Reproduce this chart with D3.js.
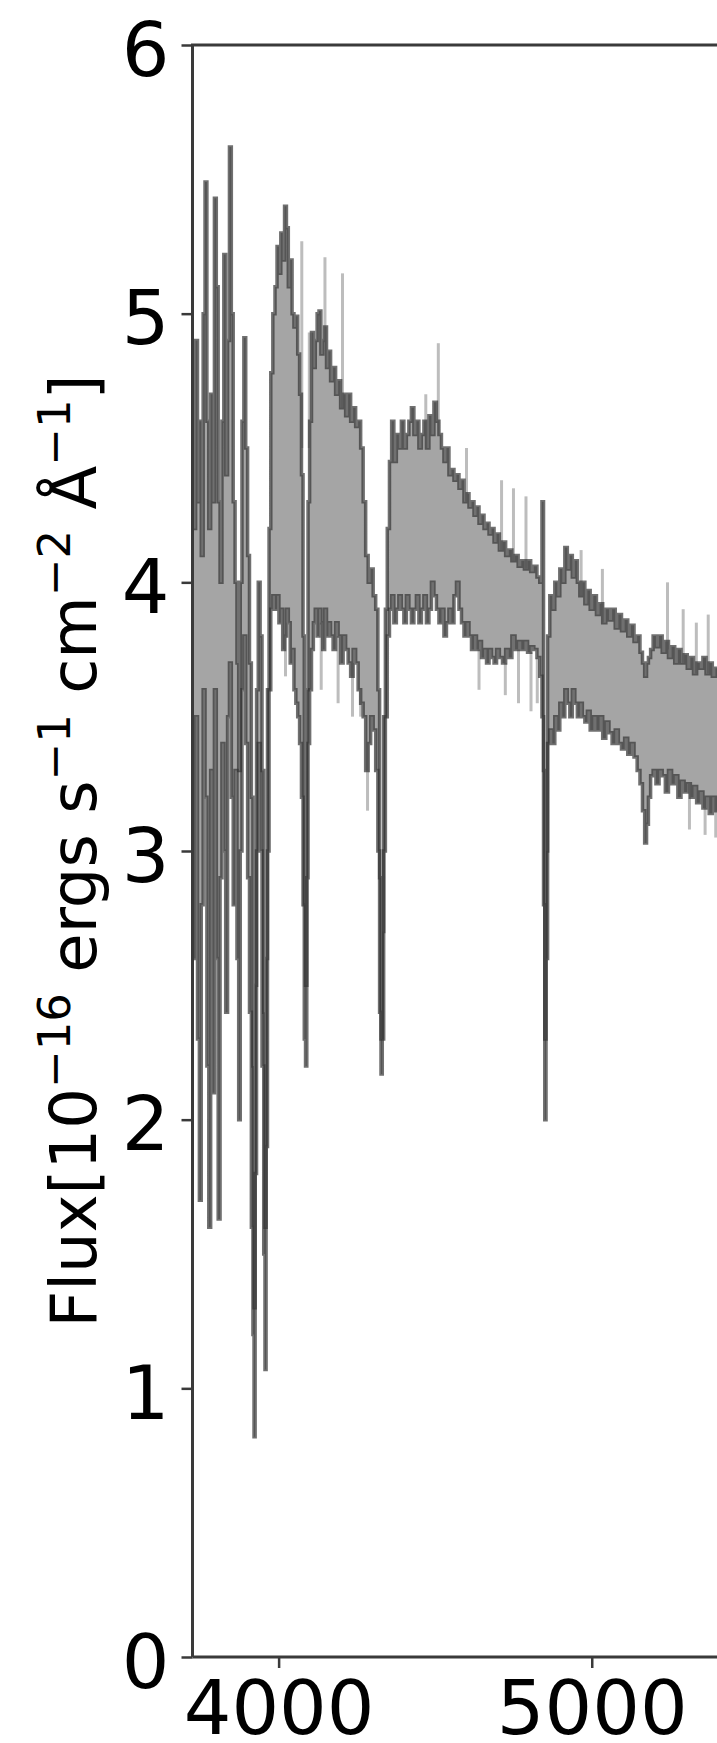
<!DOCTYPE html>
<html>
<head>
<meta charset="utf-8">
<script src="https://cdn.jsdelivr.net/npm/d3@7"></script>
<style>
  body { margin: 0; background: #fff; }
  svg { display: block; font-family: 'DejaVu Sans', sans-serif; }
</style>
</head>
<body>
<div class="svg-container"></div>
<script>
// wavelength in angstrom, flux in 1e-16 erg/s/cm2/A
const wavelength = [
  3726, 3732, 3738, 3744, 3750, 3756, 3762, 3768, 3774, 3780,
  3786, 3792, 3798, 3804, 3810, 3816, 3822, 3828, 3834, 3840,
  3846, 3852, 3858, 3864, 3870, 3875, 3880, 3886, 3892, 3898,
  3904, 3910, 3916, 3920, 3923, 3927, 3932, 3938, 3944, 3950,
  3955, 3958, 3962, 3967, 3972, 3978, 3985, 3992, 3998, 4004,
  4010, 4016, 4022, 4028, 4034, 4040, 4046, 4052, 4058, 4064,
  4070, 4076, 4080, 4084, 4088, 4092, 4096, 4102, 4108, 4114,
  4120, 4126, 4132, 4138, 4144, 4150, 4156, 4162, 4170, 4178,
  4186, 4194, 4202, 4210, 4218, 4226, 4234, 4242, 4250, 4258,
  4266, 4274, 4282, 4290, 4298, 4306, 4314, 4320, 4325, 4329,
  4333, 4338, 4344, 4350, 4358, 4364, 4372, 4380, 4388, 4396,
  4404, 4412, 4420, 4428, 4436, 4444, 4452, 4460, 4468, 4476,
  4484, 4492, 4500, 4508, 4516, 4524, 4532, 4540, 4548, 4556,
  4564, 4572, 4580, 4588, 4596, 4604, 4612, 4620, 4628, 4636,
  4644, 4652, 4660, 4668, 4676, 4684, 4692, 4700, 4710, 4720,
  4730, 4740, 4750, 4760, 4770, 4780, 4790, 4800, 4810, 4820,
  4830, 4838, 4844, 4848, 4852, 4856, 4862, 4870, 4878, 4886,
  4894, 4902, 4910, 4918, 4926, 4934, 4942, 4950, 4958, 4966,
  4974, 4982, 4990, 5000, 5010, 5020, 5030, 5040, 5050, 5060,
  5070, 5080, 5090, 5100, 5110, 5120, 5130, 5140, 5150, 5158,
  5166, 5172, 5178, 5184, 5192, 5200, 5210, 5220, 5230, 5240,
  5250, 5260, 5270, 5280, 5290, 5300, 5310, 5320, 5330, 5340,
  5350, 5360, 5370, 5380, 5390, 5400, 5410
]

const fluxUpper = [
  4.90, 4.20, 4.90, 4.30, 4.60, 4.10, 5.00, 5.49, 4.60, 4.20,
  4.70, 4.30, 5.43, 5.10, 4.30, 4.00, 4.60, 5.22, 4.40, 4.90,
  5.62, 5.00, 4.30, 4.00, 3.70, 3.30, 4.00, 4.60, 4.91, 4.50,
  4.10, 3.70, 3.20, 2.20, 1.30, 2.50, 3.60, 4.00, 3.80, 3.30,
  2.40, 1.60, 2.60, 3.60, 4.20, 4.78, 5.00, 5.10, 5.25, 5.15,
  5.30, 5.20, 5.40, 5.32, 5.10, 5.20, 5.00, 4.95, 4.99, 4.85,
  4.70, 4.40, 3.80, 2.80, 2.50, 3.60, 4.30, 4.60, 4.93, 4.80,
  4.90, 5.00, 5.01, 4.85, 4.90, 4.95, 4.80, 4.86, 4.75, 4.80,
  4.70, 4.75, 4.65, 4.70, 4.62, 4.70, 4.60, 4.65, 4.58, 4.60,
  4.50, 4.30, 4.10, 4.00, 4.05, 3.95, 3.90, 3.60, 2.90, 2.30,
  2.70, 3.50, 3.90, 4.20, 4.45, 4.60, 4.45, 4.55, 4.50, 4.60,
  4.50, 4.55, 4.60, 4.65, 4.55, 4.60, 4.50, 4.55, 4.60, 4.50,
  4.62, 4.55, 4.67, 4.60, 4.55, 4.50, 4.45, 4.50, 4.40, 4.42,
  4.38, 4.40, 4.35, 4.38, 4.30, 4.33, 4.28, 4.30, 4.25, 4.28,
  4.22, 4.25, 4.20, 4.22, 4.18, 4.20, 4.15, 4.18, 4.12, 4.15,
  4.10, 4.12, 4.08, 4.10, 4.06, 4.08, 4.05, 4.08, 4.04, 4.06,
  4.02, 4.00, 4.30, 3.30, 2.30, 3.00, 3.80, 3.95, 3.90, 4.00,
  3.95, 4.05, 4.00, 4.13, 4.05, 4.10, 4.02, 4.08, 4.00, 3.95,
  4.00, 3.92, 3.97, 3.90, 3.95, 3.88, 3.92, 3.85, 3.90, 3.86,
  3.90, 3.83, 3.88, 3.82, 3.86, 3.80, 3.84, 3.78, 3.80, 3.74,
  3.70, 3.65, 3.70, 3.72, 3.75, 3.80, 3.76, 3.80, 3.74, 3.78,
  3.72, 3.76, 3.70, 3.75, 3.70, 3.73, 3.68, 3.72, 3.66, 3.70,
  3.68, 3.72, 3.66, 3.70, 3.65, 3.68, 3.66
]

const fluxLower = [
  3.40, 2.60, 3.50, 2.30, 1.70, 2.80, 3.60, 3.20, 2.20, 1.60,
  3.30, 2.10, 3.60, 2.60, 1.63, 2.90, 3.40, 3.00, 2.40, 3.50,
  3.70, 3.20, 2.80, 3.30, 2.60, 2.00, 3.00, 3.60, 3.80, 3.40,
  2.90, 2.40, 1.60, 1.20, 0.82, 1.80, 3.00, 3.40, 3.00, 2.20,
  1.50, 1.07, 1.90, 3.00, 3.60, 3.90, 3.95, 3.90, 3.95, 3.85,
  3.90, 3.75, 3.80, 3.90, 3.85, 3.70, 3.75, 3.60, 3.55, 3.50,
  3.40, 3.20, 2.80, 2.30, 2.20, 2.90, 3.40, 3.60, 3.75, 3.85,
  3.90, 3.80, 3.90, 3.85, 3.75, 3.90, 3.80, 3.85, 3.80, 3.75,
  3.85, 3.80, 3.70, 3.80, 3.75, 3.70, 3.65, 3.75, 3.70, 3.60,
  3.55, 3.50, 3.30, 3.40, 3.50, 3.45, 3.30, 3.00, 2.40, 2.17,
  2.30, 3.00, 3.50, 3.80, 3.90, 3.95, 3.85, 3.90, 3.95, 3.90,
  3.85, 3.95, 3.90, 3.85, 3.90, 3.95, 3.85, 3.90, 3.95, 3.85,
  3.90, 4.00, 3.95, 3.90, 3.85, 3.90, 3.80, 3.85, 3.90, 3.85,
  3.95, 4.00, 3.90, 3.85, 3.80, 3.85, 3.80, 3.75, 3.80, 3.75,
  3.78, 3.72, 3.75, 3.70, 3.75, 3.72, 3.70, 3.75, 3.72, 3.70,
  3.75, 3.72, 3.80, 3.75, 3.78, 3.75, 3.78, 3.74, 3.76, 3.75,
  3.72, 3.65, 3.50, 2.80, 2.00, 2.60, 3.40, 3.45, 3.40, 3.50,
  3.45, 3.55, 3.50, 3.60, 3.55, 3.50, 3.60, 3.55, 3.50, 3.55,
  3.50, 3.48, 3.52, 3.45, 3.50, 3.45, 3.50, 3.42, 3.48, 3.44,
  3.40, 3.45, 3.40, 3.38, 3.42, 3.36, 3.40, 3.35, 3.30, 3.25,
  3.15, 3.03, 3.10, 3.20, 3.28, 3.30, 3.25, 3.30, 3.28, 3.22,
  3.30, 3.25, 3.28, 3.20, 3.26, 3.22, 3.25, 3.20, 3.24, 3.18,
  3.22, 3.16, 3.20, 3.14, 3.20, 3.15, 3.20
]

// pale single-pixel excursions outside the band
const spikeWave = [4074, 4098, 4148, 4204, 4470, 4510, 4600, 4712, 4750, 4790,
  4022, 4136, 4190, 4236, 4262, 4284, 4640, 4724, 4766, 4806,
  4826, 4966, 5034, 5242, 5292, 5334, 5372, 5312, 5362, 5396]
const spikeTop = [5.27, 4.93, 5.21, 5.15, 4.70, 4.89, 4.50, 4.38, 4.35, 4.32,
  3.85, 3.85, 3.80, 3.70, 3.60, 3.60, 3.75, 3.70, 3.75, 3.74,
  3.72, 4.12, 4.05, 4.00, 3.90, 3.85, 3.88, 3.25, 3.16, 3.20]
const spikeBottom = [4.50, 4.50, 4.80, 4.60, 4.50, 4.55, 4.30, 4.10, 4.05, 4.05,
  3.65, 3.60, 3.55, 3.50, 3.50, 3.15, 3.60, 3.58, 3.55, 3.52,
  3.55, 3.90, 3.85, 3.75, 3.70, 3.66, 3.66, 3.08, 3.06, 3.05]

const xTicks = [4000, 5000]
const yTicks = [0, 1, 2, 3, 4, 5, 6]

const svgWidth = 717
const svgHeight = 1743
const plotLeft = 192.5
const plotTop = 45
const plotBottom = 1657

const svg = d3
  .select('.svg-container')
  .append('svg')
  .attr('width', svgWidth)
  .attr('height', svgHeight)

const xScale = d3.scaleLinear([3725, 5400], [plotLeft, svgWidth])
const yScale = d3.scaleLinear([0, 6], [plotBottom, plotTop])

const spectrum = wavelength.map((w, i) => ({ w, hi: fluxUpper[i], lo: fluxLower[i] }))
const spikes = spikeWave.map((w, i) => ({ w, top: spikeTop[i], bottom: spikeBottom[i] }))

svg
  .append('clipPath')
  .attr('id', 'plot-clip')
  .append('rect')
  .attr('x', plotLeft)
  .attr('y', plotTop)
  .attr('width', svgWidth - plotLeft + 10)
  .attr('height', plotBottom - plotTop)

const plot = svg.append('g').attr('clip-path', 'url(#plot-clip)')

plot
  .selectAll('.spike')
  .data(spikes)
  .join('line')
  .classed('spike', true)
  .attr('x1', (d) => xScale(d.w))
  .attr('x2', (d) => xScale(d.w))
  .attr('y1', (d) => yScale(d.top))
  .attr('y2', (d) => yScale(d.bottom))
  .attr('stroke', '#bdbdbd')
  .attr('stroke-width', 3)

plot
  .append('path')
  .datum(spectrum)
  .attr('fill', '#a5a5a5')
  .attr('d', d3.area()
    .curve(d3.curveStep)
    .x((d) => xScale(d.w))
    .y0((d) => yScale(d.lo))
    .y1((d) => yScale(d.hi)))

const line = d3.line().curve(d3.curveStep).x((d) => xScale(d.w))

const edges = [fluxUpper, fluxLower]

edges.forEach((values) => {
  plot
    .append('path')
    .datum(values)
    .attr('fill', 'none')
    .attr('stroke', '#333')
    .attr('stroke-opacity', 0.7)
    .attr('stroke-width', 3.5)
    .attr('d', d3.line()
      .curve(d3.curveStep)
      .x((d, i) => xScale(wavelength[i]))
      .y((d) => yScale(d)))
})

// axes, drawn matplotlib-ish
svg
  .append('g')
  .attr('transform', `translate(0, ${plotBottom})`)
  .call(d3.axisBottom(xScale).tickValues(xTicks).tickSize(11).tickPadding(13).tickFormat(d3.format('d')))

const yAxis = svg
  .append('g')
  .attr('transform', `translate(${plotLeft}, 0)`)
  .call(d3.axisLeft(yScale).tickValues(yTicks).tickSize(11).tickPadding(12).tickFormat(d3.format('d')))

yAxis.selectAll('text').attr('dy', '0.4em')

svg.selectAll('.domain').remove()

svg.selectAll('.tick line').attr('stroke', '#3a3a3a').attr('stroke-width', 2.5)
svg.selectAll('.tick text').attr('fill', '#000').style('font-size', '75px').style('font-family', 'DejaVu Sans')

svg
  .append('path')
  .attr('d', `M${plotLeft},${plotBottom}V${plotTop}H${svgWidth + 5}`)
  .attr('fill', 'none')
  .attr('stroke', '#3a3a3a')
  .attr('stroke-width', 3)

svg
  .append('line')
  .attr('x1', plotLeft)
  .attr('x2', svgWidth + 5)
  .attr('y1', plotBottom)
  .attr('y2', plotBottom)
  .attr('stroke', '#3a3a3a')
  .attr('stroke-width', 3)

const label = svg
  .append('text')
  .attr('transform', `translate(96, ${(plotTop + plotBottom) / 2}) rotate(-90)`)
  .attr('text-anchor', 'middle')
  .style('font-size', '64px')
  .attr('fill', '#000')

const parts = [
  ['Flux[10', false], ['\u221216', true], [' ergs s', false], ['\u22121', true],
  [' cm', false], ['\u22122', true], [' \u00c5', false], ['\u22121', true], [']', false]
]

parts.forEach(([str, sup], i) => {
  const prevSup = i > 0 && parts[i - 1][1]
  label
    .append('tspan')
    .attr('dy', sup ? -26 : (prevSup ? 26 : 0))
    .style('font-size', sup ? '45px' : '64px')
    .text(str)
})
</script>
</body>
</html>
